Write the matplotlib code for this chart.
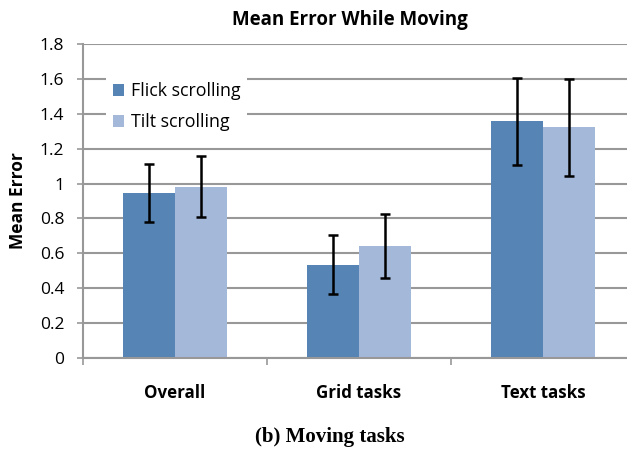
import matplotlib.pyplot as plt
import numpy as np

# Datos del grafico
categorias = ["Overall", "Grid tasks", "Text tasks"]
series = ["Flick scrolling", "Tilt scrolling"]
flick = [0.945, 0.535, 1.357]
tilt = [0.980, 0.640, 1.323]
flick_lo = [0.780, 0.365, 1.108]
flick_hi = [1.112, 0.705, 1.607]
tilt_lo = [0.808, 0.458, 1.045]
tilt_hi = [1.158, 0.828, 1.598]
yticks = [0, 0.2, 0.4, 0.6, 0.8, 1, 1.2, 1.4, 1.6, 1.8]
ytick_labels = ["0", "0.2", "0.4", "0.6", "0.8", "1", "1.2", "1.4", "1.6", "1.8"]

colores = ["#5584B5", "#A4B8DA"]
fuente = ["Open Sans", "DejaVu Sans"]

fig = plt.figure(figsize=(6.27, 4.51), dpi=100)
ax = fig.add_axes([83 / 627, 93 / 451, 552 / 627, 314 / 451])

x = np.arange(len(categorias))
w = 0.285
err_f = [np.array(flick) - np.array(flick_lo), np.array(flick_hi) - np.array(flick)]
err_t = [np.array(tilt) - np.array(tilt_lo), np.array(tilt_hi) - np.array(tilt)]
ax.bar(x - w / 2, flick, w, color=colores[0], label=series[0], zorder=2)
ax.bar(x + w / 2, tilt, w, color=colores[1], label=series[1], zorder=2)
ax.errorbar(x - w / 2, flick, yerr=err_f, fmt="none", ecolor="black",
            elinewidth=1.8, capsize=3.5, capthick=1.8, zorder=3)
ax.errorbar(x + w / 2, tilt, yerr=err_t, fmt="none", ecolor="black",
            elinewidth=1.8, capsize=3.5, capthick=1.8, zorder=3)

ax.set_xlim(-0.5, 2.5)
ax.set_ylim(0, 1.8)
ax.set_yticks(yticks)
ax.set_yticklabels(ytick_labels, family=fuente, fontsize=12.5)
ax.yaxis.grid(True, color="#989898", linewidth=1.5, zorder=0)
ax.set_axisbelow(True)

# ticks del eje x en los limites de las categorias
ax.set_xticks([-0.5, 0.5, 1.5, 2.5])
ax.set_xticklabels([])
ax.set_xticks(x, minor=True)
ax.set_xticklabels(categorias, minor=True, family=fuente, fontsize=12.2,
                   fontweight="bold")
ax.tick_params(axis="x", which="minor", length=0, pad=19)
ax.tick_params(axis="x", which="major", length=5, color="#989898", width=1.2)
ax.tick_params(axis="y", length=4.5, color="#989898", width=1.2, pad=9)

for s in ["top", "right"]:
    ax.spines[s].set_visible(False)
for s in ["left", "bottom"]:
    ax.spines[s].set_color("#989898")
    ax.spines[s].set_linewidth(1.5)

ax.set_ylabel("Mean Error", family=fuente, fontsize=12.5, fontweight="bold")
ax.yaxis.set_label_coords(-56 / 552, 0.5)
fig.text(350 / 627, 1 - 20 / 451, "Mean Error While Moving", family=fuente,
         fontsize=13.5, fontweight="bold", ha="center", va="center")

leg = ax.legend(loc="upper left", bbox_to_anchor=(0.025, 0.93), frameon=True,
                prop={"family": fuente, "size": 12.8}, handlelength=0.65,
                handleheight=0.65, handletextpad=0.35, labelspacing=0.75,
                borderpad=0.4)
leg.get_frame().set_facecolor("white")
leg.get_frame().set_edgecolor("none")
leg.get_frame().set_alpha(1)

fig.text(330 / 627, 1 - 437 / 451, "(b) Moving tasks", family="Liberation Serif",
         fontsize=15, fontweight="bold", ha="center", va="center")

fig.savefig("out.png", dpi=100)
